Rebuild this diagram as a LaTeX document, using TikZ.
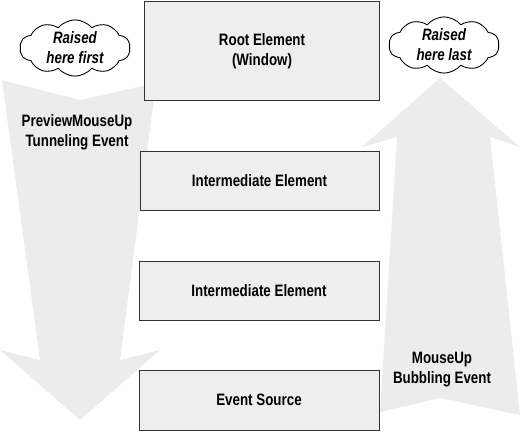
\documentclass[tikz,border=0pt]{standalone}
\usepackage{fontspec}
\setmainfont{Liberation Sans}[FakeStretch=0.81]
\usepackage{tikz}
\usetikzlibrary{shapes.symbols}
\definecolor{box_gray}{RGB}{238,238,238}
\definecolor{edge_gray}{RGB}{50,50,50}
\definecolor{flow_gray}{RGB}{236,236,236}

\begin{document}
\begin{tikzpicture}[x=1pt,y=-1pt,line width=0.9pt]
    \tikzstyle{elem}=[draw=edge_gray, fill=box_gray, rectangle, inner sep=0pt, text=black, align=center, font=\fontsize{16.5}{20}\selectfont\bfseries]
    \tikzstyle{note}=[draw=black, fill=white, cloud, cloud puffs=10, cloud puff arc=100, aspect=2, inner sep=0pt, minimum width=110pt, minimum height=55pt, align=center, font=\fontsize{16.5}{20}\selectfont\bfseries\itshape]
    \tikzstyle{flow}=[fill=flow_gray, draw=none]
    \tikzstyle{label}=[align=center, font=\fontsize{16.5}{20}\selectfont\bfseries]

    \useasboundingbox (0,0) rectangle (521,431);

    % tunneling arrow (down)
    \fill[flow] (2,80) -- (80,100) -- (156,83) -- (120,360) -- (160,350)
                -- (80,420) -- (0,350) -- (40,360) -- cycle;
    % bubbling arrow (up)
    \fill[flow] (380,412) -- (440,398) -- (520,415) -- (490,137) -- (520,147)
                -- (440,78) -- (362,147) -- (397,137) -- cycle;

    \node[elem, minimum width=235pt, minimum height=99pt] (root) at (262,51) {Root Element\\(Window)};
    \node[elem, minimum width=239pt, minimum height=59pt] (mid1) at (259.5,180.5) {Intermediate Element};
    \node[elem, minimum width=240pt, minimum height=59pt] (mid2) at (259,290.5) {Intermediate Element};
    \node[elem, minimum width=240pt, minimum height=60pt] (src)  at (259,400) {Event Source};

    \node[note] (first) at (75,48) {Raised\\here first};
    \node[note] (last)  at (444,45) {Raised\\here last};

    \node[label] (tunnel) at (77,132) {PreviewMouseUp\\Tunneling Event};
    \node[label] (bubble) at (442,370) {MouseUp\\Bubbling Event};
\end{tikzpicture}
\end{document}
